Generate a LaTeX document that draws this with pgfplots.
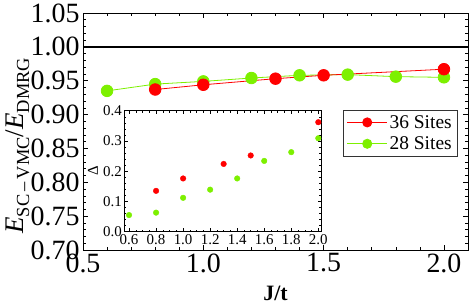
\documentclass[border=0pt]{standalone}
\usepackage{fontspec}
\setmainfont{Liberation Serif}
\usepackage{pgfplots}
\pgfplotsset{compat=1.18}
\definecolor{myred}{RGB}{255,0,0}
\definecolor{mygreen}{RGB}{125,240,0}
\begin{document}
\begin{tikzpicture}
\path[use as bounding box] (0,0) rectangle (471bp,307bp);
\begin{axis}[
  at={(83bp,57bp)}, anchor=south west,
  scale only axis, width=385bp, height=237bp,
  xmin=0.5, xmax=2.1, ymin=0.70, ymax=1.05,
  xtick={0.5,1.0,1.5,2.0}, ytick={0.70,0.75,0.80,0.85,0.90,0.95,1.00,1.05},
  minor x tick num=4, minor y tick num=4,
  tick align=inside, tick pos=both,
  major tick length=5bp, minor tick length=3bp,
  axis line style={line width=0.8bp},
  every tick/.style={line width=0.6bp, black},
  /pgf/number format/assume math mode=true,
  xticklabel style={/pgf/number format/fixed, /pgf/number format/fixed zerofill, /pgf/number format/precision=1},
  yticklabel style={/pgf/number format/fixed, /pgf/number format/fixed zerofill, /pgf/number format/precision=2},
  ticklabel style={font=\fontsize{28}{28}\selectfont},
  xlabel={\textbf{J/t}},
  xlabel style={font=\fontsize{22}{22}\selectfont, at={(axis description cs:0.5,-0.185)}, anchor=center},
  ylabel={\textit{E}\raisebox{-0.22em}{\fontsize{18.5}{18.5}\selectfont SC\,–\,VMC}/\textit{E}\raisebox{-0.22em}{\fontsize{18.5}{18.5}\selectfont DMRG}},
  ylabel style={font=\fontsize{27}{27}\selectfont, at={(axis description cs:-0.17,0.44)}, anchor=center},
  legend style={at={(0.974,0.591)}, anchor=north east, draw=black!80, line width=0.6bp,
     font=\fontsize{19.5}{19.5}\selectfont, inner xsep=4bp, inner ysep=3bp, row sep=3bp},
  legend cell align=left,
  reverse legend,
  legend image code/.code={\draw[#1, mark size=4.6bp, mark repeat=2, mark phase=2] plot coordinates {(0bp,0bp) (20bp,0bp) (40bp,0bp)};},
]
\addplot[black, line width=1.4bp, forget plot] coordinates {(0.5,1.0) (2.1,1.0)};
\addplot[mygreen, line width=0.8bp, mark=*, mark size=5.8bp, mark options={draw=mygreen, fill=mygreen}] coordinates {
(0.6,0.935) (0.8,0.945) (1.0,0.949) (1.2,0.954) (1.4,0.958) (1.6,0.959) (1.8,0.956) (2.0,0.955)};
\addlegendentry{28 Sites}
\addplot[myred, line width=0.8bp, mark=*, mark size=5.8bp, mark options={draw=myred, fill=myred}] coordinates {
(0.8,0.937) (1.0,0.944) (1.3,0.953) (1.5,0.958) (2.0,0.967)};
\addlegendentry{36 Sites}
\end{axis}
\begin{axis}[
  at={(124.3bp,75.3bp)}, anchor=south west,
  scale only axis, width=196.7bp, height=121bp,
  xmin=0.565, xmax=2.02, ymin=0, ymax=0.4,
  xtick={0.6,0.8,1.0,1.2,1.4,1.6,1.8,2.0}, ytick={0,0.1,0.2,0.3,0.4},
  minor x tick num=3, minor y tick num=4,
  tick align=inside, tick pos=both,
  major tick length=3.5bp, minor tick length=2bp,
  axis line style={line width=0.7bp},
  every tick/.style={line width=0.5bp, black},
  axis background/.style={fill=white},
  /pgf/number format/assume math mode=true,
  xticklabel style={/pgf/number format/fixed, /pgf/number format/fixed zerofill, /pgf/number format/precision=1, yshift=1bp},
  yticklabel style={/pgf/number format/fixed, /pgf/number format/fixed zerofill, /pgf/number format/precision=1, xshift=1bp},
  ticklabel style={font=\fontsize{15}{15}\selectfont},
  ylabel={Δ},
  ylabel style={font=\fontsize{15}{15}\selectfont, at={(axis description cs:-0.159,0.502)}, anchor=center},
]
\addplot[only marks, mark=*, mark size=2.8bp, mygreen, mark options={draw=mygreen, fill=mygreen}] coordinates {
(0.6,0.055) (0.8,0.063) (1.0,0.112) (1.2,0.139) (1.4,0.176) (1.6,0.234) (1.8,0.263) (2.0,0.309)};
\addplot[only marks, mark=*, mark size=2.8bp, myred, mark options={draw=myred, fill=myred}] coordinates {
(0.8,0.135) (1.0,0.176) (1.3,0.224) (1.5,0.252) (2.0,0.362)};
\end{axis}
\end{tikzpicture}
\end{document}
